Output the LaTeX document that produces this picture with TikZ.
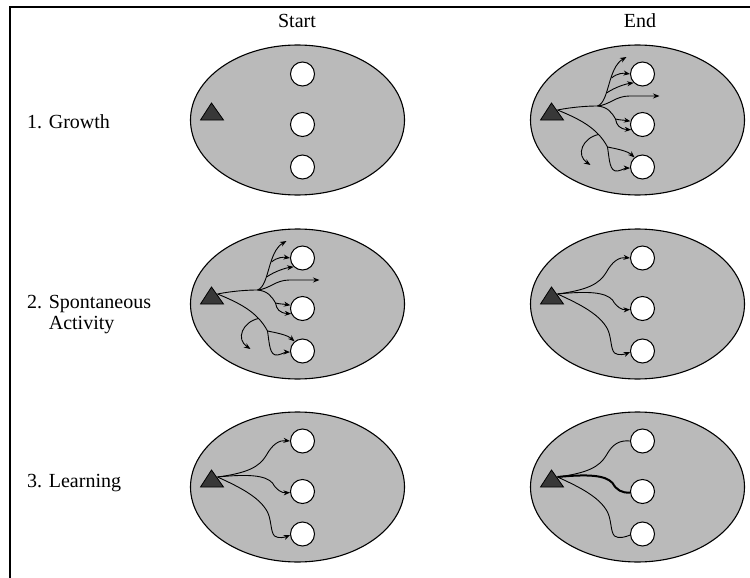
\documentclass[tikz,border=0pt]{standalone}
\usepackage{fontspec}
\setmainfont{Liberation Serif}
\usetikzlibrary{shapes.geometric,arrows.meta}
\tikzset{
 oval/.style={ellipse,draw,line width=1.1pt,fill=black!27,minimum width=214pt,minimum height=150pt,inner sep=0pt},
 cell/.style={circle,draw,line width=1pt,fill=white,minimum size=24pt,inner sep=0pt},
 tri/.style={draw,line width=0.8pt,fill=black!78,line join=miter},
 fib/.style={line width=0.9pt},
 arr/.style={fib,-{Stealth[length=6.5pt,width=5pt]}},
 heavyfib/.style={line width=2pt},
 lab/.style={font=\fontsize{20}{21}\selectfont,inner sep=0pt},
}
\newcommand{\drawpanel}[3]{%
 \begin{scope}[shift={(#2,#3)}]
  \node[oval] (#1e) at (0,0) {};
  \node[cell] (#1a) at (5,-46) {};
  \node[cell] (#1b) at (5,4.5) {};
  \node[cell] (#1c) at (5,47) {};
  \draw[tri] (-97,0) -- (-74,0) -- (-86,-17) -- cycle;
  \coordinate (#1t) at (-80,-10);
 \end{scope}}
\newcommand{\growthfibres}[3]{%
 \begin{scope}[shift={(#2,#3)}]
  \coordinate (#1u) at (-40,-14);
  \coordinate (#1ua) at (-26,-42);
  \coordinate (#1ub) at (-31,-27);
  \coordinate (#1m) at (-22,-1);
  \coordinate (#1l) at (-30,27);
  \coordinate (#1ld) at (-39,14.5);
  \coordinate (#1f1) at (-11,-63);
  \coordinate (#1f2) at (22,-24);
  \coordinate (#1f3) at (-47,45);
  \draw[fib] (#1t) .. controls (-65,-13) and (-50,-14) .. (#1u);
  \draw[arr] (#1u) .. controls (-28,-18) and (-30,-52) .. (#1f1);
  \draw[arr] (#1ua) .. controls (-20,-47) and (-14,-47) .. (#1a.180);
  \draw[arr] (#1ub) .. controls (-22,-33) and (-12,-36) .. (#1a.225);
  \draw[arr] (#1u) .. controls (-28,-15) and (-22,-24) .. (-8,-24) .. controls (4,-24) and (12,-24) .. (#1f2);
  \draw[arr] (#1u) .. controls (-30,-13) and (-26,-8) .. (#1m) .. controls (-19,0) and (-14,0) .. (#1b.165);
  \draw[arr] (#1m) .. controls (-21,5) and (-18,9) .. (#1b.205);
  \draw[fib] (#1t) .. controls (-58,-1) and (-40,8) .. (#1l);
  \draw[arr] (#1ld) .. controls (-55,18) and (-62,35) .. (#1f3);
  \draw[arr] (#1l) .. controls (-20,29) and (-10,31) .. (#1c.130);
  \draw[arr] (#1l) .. controls (-28,40) and (-28,52) .. (-20,51) .. controls (-15,50) and (-12,48) .. (#1c.185);
 \end{scope}}
\newcommand{\learnfibres}[5]{%
 \begin{scope}[shift={(#2,#3)}]
  \draw[#4] (#1t) .. controls (-50,-14) and (-38,-20) .. (-31,-32) .. controls (-25,-43) and (-18,-47) .. (#1a.180);
  \draw[#5] (#1t) .. controls (-50,-13) and (-32,-12) .. (-25,-4) .. controls (-21,3) and (-16,6) .. (#1b.185);
  \draw[#4] (#1t) .. controls (-58,0) and (-38,10) .. (-30,25) .. controls (-26,33) and (-27,45) .. (-23,49) .. controls (-19,52) and (-12,50) .. (#1c.185);
 \end{scope}}
\begin{document}
\begin{tikzpicture}[x=1pt,y=-1pt]
\useasboundingbox (0,0) rectangle (750,578);
\draw[line width=1.2pt] (10,578) -- (10,7) -- (750,7);
\node[lab] (hs) at (297,21) {Start};
\node[lab] (he) at (640,21) {End};
\node[lab,anchor=west] (r1) at (27,122) {1. Growth};
\node[lab,anchor=west,align=left] (r2) at (27,315) {2. Spontaneous\\\phantom{2. }Activity};
\node[lab,anchor=west] (r3) at (27,483) {3. Learning};
\drawpanel{sa}{297.5}{120}
\drawpanel{ea}{637.5}{120}
\drawpanel{sb}{297.5}{304}
\drawpanel{eb}{637.5}{304}
\drawpanel{sc}{297.5}{487}
\drawpanel{ec}{637.5}{487}
\growthfibres{ea}{637.5}{120}
\growthfibres{sb}{297.5}{304}
\learnfibres{eb}{637.5}{304}{arr}{arr}
\learnfibres{sc}{297.5}{487}{arr}{arr}
\learnfibres{ec}{637.5}{487}{fib}{heavyfib}
\end{tikzpicture}
\end{document}
